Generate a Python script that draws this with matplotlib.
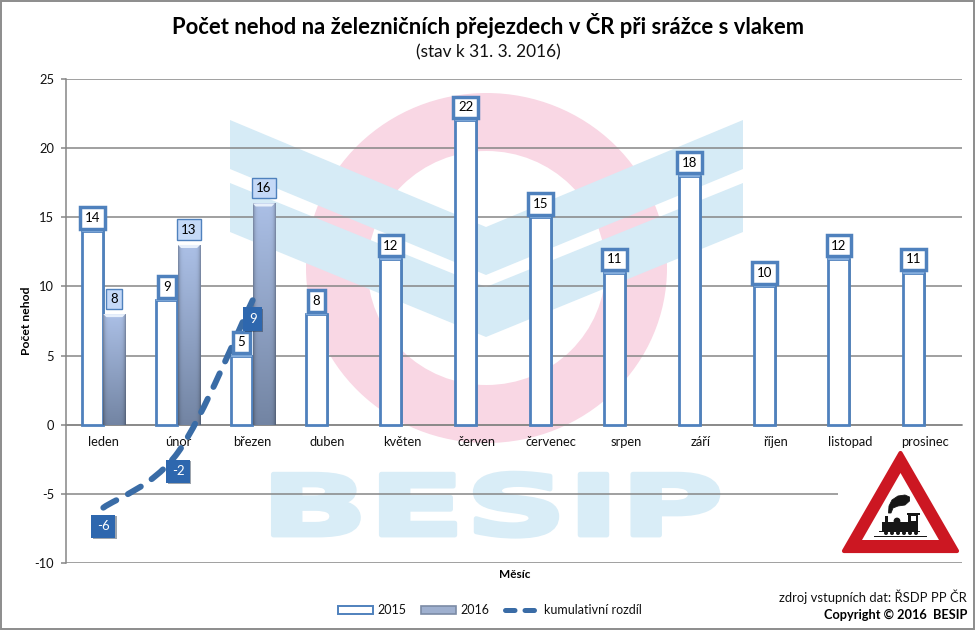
import matplotlib
matplotlib.use('Agg')
import matplotlib.pyplot as plt
import numpy as np
from matplotlib.patches import Ellipse, Polygon, Rectangle, PathPatch, Patch, Circle
from matplotlib.path import Path
from matplotlib.lines import Line2D
from matplotlib.transforms import Affine2D
from matplotlib.patheffects import AbstractPathEffect, withSimplePatchShadow

plt.rcParams['font.family'] = ['Lato', 'DejaVu Sans']
plt.rcParams['axes.unicode_minus'] = False

mesice = ['leden', 'únor', 'březen', 'duben', 'květen', 'červen', 'červenec',
          'srpen', 'září', 'říjen', 'listopad', 'prosinec']
nehody_2015 = [14, 9, 5, 8, 12, 22, 15, 11, 18, 10, 12, 11]
nehody_2016 = [8, 13, 16]
kumulativni_rozdil = [-6, -2, 9]
y_ticks = [-10, -5, 0, 5, 10, 15, 20, 25]

W, H = 977, 631
GRID = '#868686'
MODRA = '#4f81bd'
TMAVA = '#3a6ca6'
TEXT = '#111111'
BAR_W = 0.295


class Stretch(AbstractPathEffect):
    # roztazeni textu do sirky kolem stredu (logo BESIP), s obrysem pro tucnejsi pismo
    def __init__(self, sx, cx, lw):
        super().__init__()
        self.sx, self.cx, self.lw = sx, cx, lw

    def draw_path(self, renderer, gc, tpath, affine, rgbFace=None):
        t = affine + Affine2D().translate(-self.cx, 0).scale(self.sx, 1).translate(self.cx, 0)
        gc0 = renderer.new_gc()
        gc0.copy_properties(gc)
        gc0.set_linewidth(self.lw)
        gc0.set_foreground(rgbFace)
        renderer.draw_path(gc0, tpath, t, rgbFace)
        gc0.restore()


fig = plt.figure(figsize=(W / 100, H / 100), dpi=100, facecolor='white')

# pozadi - vodoznak
bg = fig.add_axes([0, 0, 1, 1], zorder=0)
bg.set_xlim(0, W)
bg.set_ylim(H, 0)
bg.axis('off')
bg.add_patch(Ellipse((486.5, 268), 361, 350, fc='#f9d7e4', ec='none'))
bg.add_patch(Ellipse((486.5, 268), 238, 234, fc='white', ec='none'))
bg.add_patch(Polygon([(230, 120), (486, 227), (743, 120), (743, 169), (486, 275), (230, 169)],
                     fc='#d6ebf6', ec='none'))
bg.add_patch(Polygon([(230, 183), (486, 287), (743, 183), (743, 232), (486, 337), (230, 232)],
                     fc='#d6ebf6', ec='none'))
bg.text(492, 535, 'BESIP', fontsize=60, fontweight='bold', family='DejaVu Sans',
        color='#d9edf7', ha='center', va='baseline',
        path_effects=[Stretch(1.7, 492, 3.5)])

# graf
ax = fig.add_axes([66 / W, 1 - 563 / H, (962 - 66) / W, (563 - 79) / H], zorder=1)
ax.patch.set_visible(False)
x = np.arange(len(mesice))
x15 = x - 0.148
x16 = x[:len(nehody_2016)] + 0.148

ax.set_axisbelow(True)
ax.grid(axis='y', color=GRID, lw=1.1)
ax.bar(x15 + 0.012, nehody_2015, BAR_W + 0.012, color='#6f6f6f', alpha=0.6, zorder=2)
ax.bar(x15, nehody_2015, BAR_W - 0.015, color='white', edgecolor=MODRA, lw=2, zorder=3)
for xi, v in zip(x15, nehody_2015):
    ax.plot([xi - BAR_W / 2 + 0.02, xi + BAR_W / 2 - 0.02], [v, v], color='#8db4e2', lw=1.3, zorder=4)

# 2016 - gradient
ramp = np.linspace(0, 1, 64)[:, None]
horni = np.array([0.67, 0.75, 0.90])
dolni = np.array([0.45, 0.52, 0.64])
hrana = 1 - 0.28 * np.abs(np.linspace(-1, 1, 32)) ** 6
grad = (horni * (1 - ramp) + dolni * ramp)[:, None, :] * hrana[None, :, None]
for xi, v in zip(x16, nehody_2016):
    ax.bar(xi + 0.012, v, BAR_W, color='#7f7f7f', alpha=0.45, zorder=2)
    ax.imshow(grad, extent=(xi - BAR_W / 2, xi + BAR_W / 2, 0, v), origin='upper',
              aspect='auto', zorder=3)
    ax.fill([xi - BAR_W / 2, xi + BAR_W / 2, xi + BAR_W / 2 - 0.04, xi - BAR_W / 2 + 0.04],
            [v, v, v - 0.22, v - 0.22], color='#e8f0fb', lw=0, zorder=4)

# kumulativni rozdil - vyhlazena cara
px = np.arange(len(kumulativni_rozdil), dtype=float)
py = np.array(kumulativni_rozdil, dtype=float)
verts = [(px[0], py[0])]
codes = [Path.MOVETO]
for i in range(len(px) - 1):
    p0 = max(i - 1, 0)
    p3 = min(i + 2, len(px) - 1)
    verts += [(px[i] + (px[i + 1] - px[p0]) / 6, py[i] + (py[i + 1] - py[p0]) / 6),
              (px[i + 1] - (px[p3] - px[i]) / 6, py[i + 1] - (py[p3] - py[i]) / 6),
              (px[i + 1], py[i + 1])]
    codes += [Path.CURVE4] * 3
ax.add_patch(PathPatch(Path(verts, codes), fill=False, ec=TMAVA, lw=4.3, capstyle='round',
                       linestyle=(0, (2.5, 2.2)), zorder=5))

# popisky hodnot
for xi, v in zip(x15, nehody_2015):
    ax.annotate(str(v), (xi, v), xytext=(0, 9.5), textcoords='offset points', ha='center', va='center',
                fontsize=9.5, color='black', zorder=7,
                bbox=dict(boxstyle='square,pad=0.36', fc='white', ec=MODRA, lw=2.5))
for xi, v in zip(x16, nehody_2016):
    ax.annotate(str(v), (xi, v), xytext=(0, 11), textcoords='offset points', ha='center', va='center',
                fontsize=9.5, color='black', zorder=7,
                bbox=dict(boxstyle='square,pad=0.32', fc='#c5d9f7', ec=MODRA, lw=1))
for xi, v in zip(px, kumulativni_rozdil):
    t = ax.annotate(str(v), (xi, v), xytext=(0, -13.5), textcoords='offset points', ha='center', va='center',
                    fontsize=9.5, color='white', zorder=8,
                    bbox=dict(boxstyle='square,pad=0.42', fc='#2e67ae', ec='none'))
    t.get_bbox_patch().set_path_effects([withSimplePatchShadow(offset=(1, -1), alpha=0.4)])

ax.set_xlim(-0.5, len(mesice) - 0.5)
ax.set_ylim(-10, 25)
ax.set_yticks(y_ticks)
ax.set_xticks(x, mesice)
for s in ['top', 'right']:
    ax.spines[s].set_visible(False)
ax.spines['left'].set_color(GRID)
ax.spines['left'].set_linewidth(1.1)
ax.spines['bottom'].set_position(('data', 0))
ax.spines['bottom'].set_color(GRID)
ax.spines['bottom'].set_linewidth(1.1)
ax.tick_params(axis='x', length=0, pad=8, labelsize=9.3, labelcolor=TEXT)
ax.tick_params(axis='y', length=3.5, width=1.1, color=GRID, pad=5, labelsize=9.3, labelcolor=TEXT)

# texty, znacka, ramecek
top = fig.add_axes([0, 0, 1, 1], zorder=2)
top.set_xlim(0, W)
top.set_ylim(H, 0)
top.axis('off')
top.add_patch(Rectangle((0.8, 0.8), 973.5, 628.5, fc='none', ec='#8c8c8c', lw=1.4))

top.text(488, 26, 'Počet nehod na železničních přejezdech v ČR při srážce s vlakem',
         fontsize=15.85, fontweight='bold', color='black', ha='center', va='center')
top.text(488, 52, '(stav k 31. 3. 2016)', fontsize=12.4, color=TEXT, ha='center', va='center')
top.text(27, 321, 'Počet nehod', fontsize=8.7, fontweight='bold', color='black', rotation=90,
         ha='center', va='center')
top.text(515, 574, 'Měsíc', fontsize=8.5, fontweight='bold', color='black', ha='center', va='center')
top.text(967, 597, 'zdroj vstupních dat: ŘSDP PP ČR', fontsize=9.4, color=TEXT, ha='right', va='center')
top.text(967, 615, 'Copyright © 2016  BESIP', fontsize=9.2, fontweight='bold', color='black',
         ha='right', va='center')

# znacka A32 - vlak
top.add_patch(Rectangle((838, 449), 126, 107, fc='white', ec='none', zorder=2))
top.add_patch(Polygon([(900.5, 453), (844, 551), (957, 551)], fc='#cc1722', ec='#cc1722', lw=3,
                      joinstyle='round', zorder=3))
top.add_patch(Polygon([(900.5, 473), (862, 540), (939, 540)], fc='white', ec='none', zorder=4))
CERNA = '#161616'
top.add_patch(Rectangle((874, 536), 53, 1.4, fc=CERNA, ec='none', zorder=5))
top.add_patch(Rectangle((879, 530.5), 41, 1.6, fc=CERNA, ec='none', zorder=5))
top.add_patch(Rectangle((882, 522), 27, 9, fc=CERNA, ec='none', zorder=5))
top.add_patch(Rectangle((908, 514), 10, 17, fc=CERNA, ec='none', zorder=5))
top.add_patch(Rectangle((906.5, 513), 13, 1.6, fc=CERNA, ec='none', zorder=5))
top.add_patch(Rectangle((910.5, 516), 5, 4.5, fc='white', ec='none', zorder=6))
top.add_patch(Rectangle((885, 516), 3, 7, fc=CERNA, ec='none', zorder=5))
top.add_patch(Circle((897, 521), 3.4, fc=CERNA, ec='none', zorder=5))
for wx in [886, 892, 898, 904, 910, 916]:
    top.add_patch(Circle((wx, 533), 2, fc=CERNA, ec='none', zorder=5))
top.add_patch(Polygon([(888.5, 513), (889, 506), (892, 500), (898, 496), (905, 495), (909.5, 497), (909.5, 501),
                       (905, 505), (898, 506), (893, 508), (891, 513)], fc=CERNA, ec=CERNA, lw=0.6,
                      joinstyle='round', zorder=5))

# legenda
handles = [Patch(fc='white', ec=MODRA, lw=1.4),
           Patch(fc='#9fb0cf', ec='#7c8ba6', lw=1.2),
           Line2D([0], [0], color=TMAVA, lw=3.6, linestyle=(0, (1.9, 2.0)), dash_capstyle='round')]
fig.legend(handles, ['2015', '2016', 'kumulativní rozdíl'], loc='center', bbox_to_anchor=(490 / W, 1 - 610 / H),
           ncol=3, frameon=False, fontsize=9, handlelength=2.8, handleheight=0.6, handletextpad=0.35,
           columnspacing=1.2, labelcolor=TEXT)

fig.savefig('out.png', dpi=100)
